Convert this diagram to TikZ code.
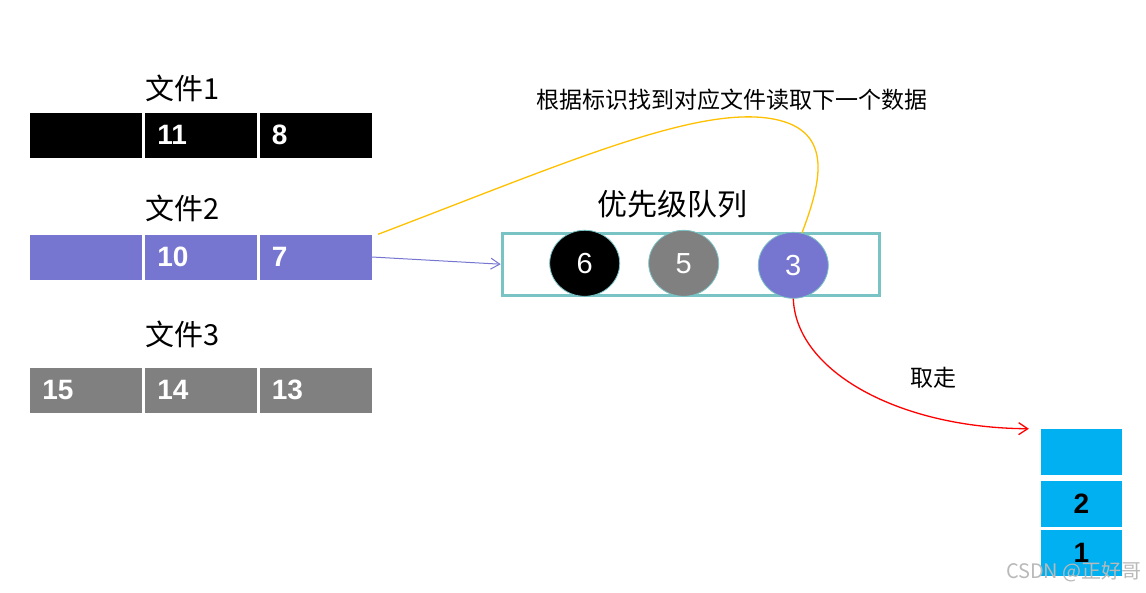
\documentclass[tikz,border=0pt]{standalone}
\usepackage{fontspec}
\setmainfont{Liberation Sans}
\newfontfamily\cjk{Noto Sans CJK SC}
\usepackage{tikz}
\usetikzlibrary{arrows.meta,positioning,shapes.geometric}
\definecolor{filepurple}{HTML}{7676D1}
\definecolor{filegray}{HTML}{808080}
\definecolor{qteal}{HTML}{7AC3C5}
\definecolor{stackcyan}{HTML}{00B0F0}
\definecolor{linkorange}{HTML}{FFC000}

\begin{document}
\begin{tikzpicture}[x=1pt, y=-1pt,
  cell/.style={rectangle, inner sep=0pt, inner xsep=12pt, minimum height=45pt, text width=88pt, align=left, text=white, font=\fontsize{28}{30}\selectfont\bfseries},
  fname/.style={anchor=west, inner sep=0pt, font=\cjk\fontsize{29}{32}\selectfont},
  qball/.style={ellipse, draw=qteal, line width=0.8pt, inner sep=0pt, minimum width=70pt, minimum height=66pt, text=white, font=\fontsize{29}{32}\selectfont},
  stk/.style={rectangle, inner sep=0pt, minimum width=81pt, minimum height=46pt, fill=stackcyan, font=\fontsize{28}{30}\selectfont\bfseries},
  note/.style={inner sep=0pt, font=\cjk\fontsize{23}{26}\selectfont}]
  \useasboundingbox (0,0) rectangle (1146,592);

  % 1. Ba file da sap xep
  \foreach \r/\y/\col/\a/\b/\c in {1/135/black//11/8, 2/257/filepurple//10/7, 3/390/filegray/15/14/13}{
    \node[cell, fill=\col] (f\r a) at (86.3,\y) {\a};
    \node[cell, fill=\col] (f\r b) at (201.3,\y) {\b};
    \node[cell, fill=\col] (f\r c) at (315.8,\y) {\c};
  }
  \node[fname] (l1) at (145,88) {文件1};
  \node[fname] (l2) at (145,208) {文件2};
  \node[fname] (l3) at (145,334) {文件3};

  % 2. Hang doi uu tien
  \node[draw=qteal, line width=3pt, minimum width=377pt, minimum height=62pt, inner sep=0pt] (queue) at (690.7,264.2) {};
  \node[inner sep=0pt, font=\cjk\fontsize{30}{33}\selectfont] (qname) at (672.5,204) {优先级队列};
  \node[qball, fill=black] (q1) at (584.7,263.3) {6};
  \node[qball, fill=filegray] (q2) at (683.7,263.3) {5};
  \node[qball, fill=filepurple] (q3) at (793.3,265.3) {3};

  % 3. Ket qua
  \node[stk] (s3) at (1081.5,452) {};
  \node[stk] (s2) at (1081.5,504) {2};
  \node[stk] (s1) at (1081.5,553) {1};

  % 4. Mui ten
  \draw[filepurple, line width=1pt, -{Straight Barb[length=9pt, width=11pt]}] (f2c.east) -- (queue.west);
  \draw[linkorange, line width=1.3pt] ([xshift=6pt]f2c.north east) .. controls (560,165) and (690,108) .. (767,118)
    .. controls (835,127) and (822,180) .. (q3.75);
  \draw[red, line width=1.3pt, -{Straight Barb[length=9pt, width=12pt]}, shorten >=12pt] (q3.south) .. controls (796,372) and (900,428) .. (s3.north west);

  % 5. Chu thich
  \node[note] (lookup) at (731.5,100) {根据标识找到对应文件读取下一个数据};
  \node[note] (take) at (933,378) {取走};
  \node[anchor=east, inner sep=0pt, text=gray!55, font=\cjk\fontsize{20}{22}\selectfont] (wm) at (1142,572) {CSDN @正好哥};
\end{tikzpicture}
\end{document}
